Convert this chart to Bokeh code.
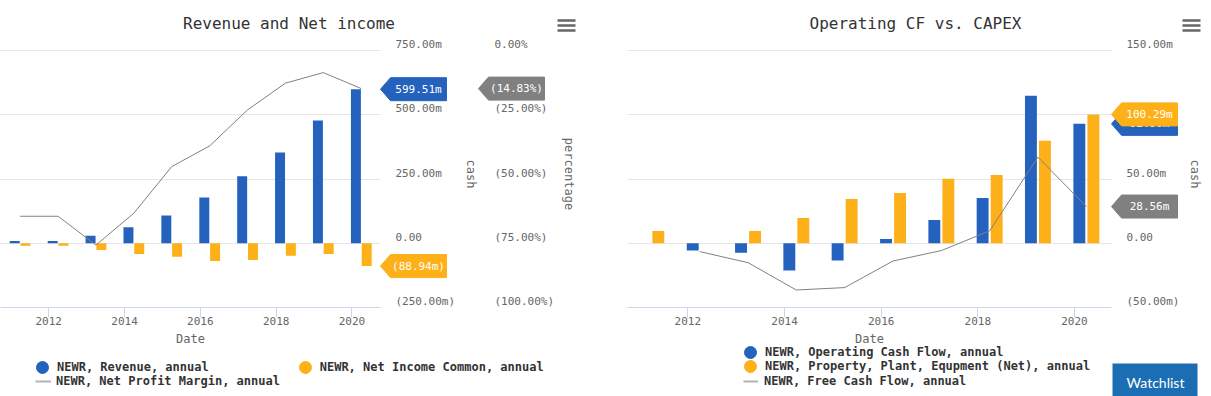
import pandas as pd
from bokeh.plotting import figure
from bokeh.models import (ColumnDataSource, Range1d, LinearAxis, FixedTicker,
                          DatetimeTickFormatter, Legend, LegendItem, Label,
                          PolyAnnotation, BoxAnnotation, GridBox)
from bokeh.transform import dodge
from bokeh.embed import file_html
from bokeh.resources import INLINE

NaN = float("nan")

# ---------------- data ----------------
DATES = ["2011-03-31", "2012-03-31", "2013-03-31", "2014-03-31", "2015-03-31",
         "2016-03-31", "2017-03-31", "2018-03-31", "2019-03-31", "2020-03-31"]
REVENUE = [9, 9, 29, 62, 108, 178, 261, 353, 478, 599.51]            # m
NET_INCOME = [-10, -10, -26, -42, -53, -69, -65, -49, -42, -88.94]    # m
NET_MARGIN = [-64.5, -64.5, -75.7, -63.3, -45.2, -37.1, -23.1, -12.7, -8.6, -14.83]  # %
OPER_CF = [NaN, -5.7, -7.3, -21.3, -13.5, 3.3, 18.1, 35.3, 114.7, 92.9]   # m
PPE_NET = [9.6, NaN, 9.6, 19.7, 34.5, 39.2, 50.1, 53.2, 79.7, 100.29]     # m
FREE_CF = [NaN, -6.5, -15.1, -36.4, -34.5, -13.8, -5.7, 9.6, 67.0, 28.56]  # m

TICK_YEARS = ["2012", "2014", "2016", "2018", "2020"]
L_CASH_TICKS = [-250, 0, 250, 500, 750]
L_CASH_LABELS = ["(250.00m)", "0.00", "250.00m", "500.00m", "750.00m"]
L_PCT_TICKS = [-100, -75, -50, -25, 0]
L_PCT_LABELS = ["(100.00%)", "(75.00%)", "(50.00%)", "(25.00%)", "0.00%"]
R_CASH_TICKS = [-50, 0, 50, 100, 150]
R_CASH_LABELS = ["(50.00m)", "0.00", "50.00m", "100.00m", "150.00m"]

TITLE_L = "Revenue and Net income"
TITLE_R = "Operating CF vs. CAPEX"
LEG_L = ["NEWR, Revenue, annual", "NEWR, Net Income Common, annual",
         "NEWR, Net Profit Margin, annual"]
LEG_R = ["NEWR, Operating Cash Flow, annual",
         "NEWR, Property, Plant, Equpment (Net), annual",
         "NEWR, Free Cash Flow, annual"]
BUTTON = "Watchlist"

# ---------------- style ----------------
MONO = "DejaVu Sans Mono"
BLUE = "#2462BD"
ORANGE = "#FDB017"
GREY = "#808080"
W_L, W_R, H = 605, 606, 396
PLOT_TOP, PLOT_BOTTOM = 50, 307
FRAME_H = PLOT_BOTTOM - PLOT_TOP
TOP_PAD = 10
LABEL_UP = 6
DAY = 86400000


def fmt_m(v):
    return f"{v:.2f}m" if v >= 0 else f"({-v:.2f}m)"


def fmt_p(v):
    return f"{v:.2f}%" if v >= 0 else f"({-v:.2f}%)"


def make_fig(width, x_start, x_end, y_lo, y_hi, min_left, min_right):
    per = (y_hi - y_lo) / FRAME_H
    p = figure(width=width, height=H, x_axis_type="datetime",
               x_range=Range1d(pd.Timestamp(x_start), pd.Timestamp(x_end)),
               y_range=Range1d(y_lo, y_hi + TOP_PAD * per),
               y_axis_location="right", output_backend="svg", toolbar_location=None,
               min_border_left=min_left, min_border_right=min_right,
               min_border_top=PLOT_TOP - TOP_PAD, min_border_bottom=H - PLOT_BOTTOM)
    p.frame_align = False
    p.outline_line_color = None
    p.background_fill_color = "white"
    p.border_fill_color = "white"
    p.xgrid.visible = False
    p.ygrid.grid_line_color = "#e6e6e6"
    xa = p.xaxis[0]
    xa.ticker = FixedTicker(ticks=[pd.Timestamp(f"{y}-01-01").value / 1e6 for y in TICK_YEARS])
    xa.formatter = DatetimeTickFormatter(years="%Y", months="%Y", days="%Y")
    xa.axis_line_color = "#ccd6eb"
    xa.major_tick_line_color = "#ccd6eb"
    xa.minor_tick_line_color = None
    xa.major_tick_out = 10
    xa.major_tick_in = 0
    xa.major_label_standoff = -1
    xa.major_label_text_font = MONO
    xa.major_label_text_font_size = "11px"
    xa.major_label_text_color = "#666666"
    xa.axis_label = "Date"
    xa.axis_label_standoff = 4
    xa.axis_label_text_font = MONO
    xa.axis_label_text_font_size = "12px"
    xa.axis_label_text_font_style = "normal"
    xa.axis_label_text_color = "#666666"
    return p, per


def overlay_range(lo, hi, per):
    # same data->pixel mapping as the chart frame, stretched over the whole canvas
    return Range1d(lo - (H - PLOT_BOTTOM) * per, hi + PLOT_TOP * per)


def make_overlay(width, y_range):
    o = figure(width=width, height=H, x_range=Range1d(0, width), y_range=y_range,
               x_axis_type=None, y_axis_type=None, output_backend="svg",
               toolbar_location=None, min_border=0,
               min_border_left=0, min_border_right=0, min_border_top=0, min_border_bottom=0)
    o.frame_align = False
    o.outline_line_color = None
    o.background_fill_alpha = 0
    o.border_fill_alpha = 0
    o.grid.visible = False
    return o


def style_y(ax, ticks, labels, per, standoff, title, title_standoff):
    shift = LABEL_UP * per
    pos = [t + shift for t in ticks]
    ax.ticker = FixedTicker(ticks=pos)
    ax.major_label_overrides = {k: v for k, v in zip(pos, labels)}
    ax.axis_line_color = None
    ax.major_tick_line_color = None
    ax.minor_tick_line_color = None
    ax.major_tick_out = 0
    ax.major_tick_in = 0
    ax.minor_tick_out = 0
    ax.major_label_standoff = standoff
    ax.major_label_text_font = MONO
    ax.major_label_text_font_size = "11px"
    ax.major_label_text_color = "#666666"
    ax.axis_label = title
    ax.axis_label_standoff = title_standoff
    ax.axis_label_text_font = MONO
    ax.axis_label_text_font_size = "12px"
    ax.axis_label_text_font_style = "normal"
    ax.axis_label_text_color = "#666666"


def callout(o, value, text, color, tip_x, per):
    h = 11.5 * per
    o.add_layout(PolyAnnotation(xs=[tip_x, tip_x + 10, tip_x + 66, tip_x + 66, tip_x + 10],
                                ys=[value, value + h, value + h, value - h, value - h],
                                xs_units="canvas", ys_units="data",
                                fill_color=color, fill_alpha=1.0, line_color=color,
                                line_alpha=1.0))
    o.add_layout(Label(x=tip_x + 38, y=value, x_units="canvas", y_units="data", text=text,
                       text_align="center", text_baseline="middle", text_color="white",
                       text_font=MONO, text_font_size="11px"))


def title(o, x, text):
    o.add_layout(Label(x=x, y=23, x_units="canvas", y_units="canvas", text=text,
                       text_align="center", text_baseline="middle", text_color="#333333",
                       text_font=MONO, text_font_size="16px"))


def hamburger(o, x0):
    for cy in (20, 25, 30):
        o.add_layout(BoxAnnotation(left=x0, right=x0 + 18, top=cy - 1.2, bottom=cy + 1.2,
                                   left_units="canvas", right_units="canvas",
                                   top_units="canvas", bottom_units="canvas",
                                   fill_color="#666666", fill_alpha=1.0, line_color=None))


def legend(items, loc, orientation="vertical", gw=30, gh=30, standoff=0, spacing=0):
    return Legend(items=items, location=loc, orientation=orientation,
                  glyph_width=gw, glyph_height=gh, label_height=14, label_standoff=standoff,
                  spacing=spacing, padding=0, margin=0, border_line_color=None,
                  background_fill_alpha=0.0, label_text_font=MONO,
                  label_text_font_size="12px", label_text_font_style="bold",
                  label_text_color="#333333")


def key_marker(o, color):
    return o.scatter(x=[NaN], y=[NaN], marker="circle", color=color)


def key_line(o):
    return o.line(x=[NaN, NaN], y=[NaN, NaN], color="#b3b3b3", line_width=2)


dates = pd.to_datetime(DATES).values

# ---------------- left chart ----------------
src_l = ColumnDataSource(dict(date=dates, revenue=REVENUE, ni=NET_INCOME, margin=NET_MARGIN))
p1, per_c = make_fig(W_L, "2010-09-23", "2020-10-02", -250, 750, 0, 225)
per_p = 100 / FRAME_H
p1.extra_y_ranges = {"pct": Range1d(-100, 0 + TOP_PAD * per_p)}
style_y(p1.yaxis[0], L_CASH_TICKS, L_CASH_LABELS, per_c, 15, "cash", 6)
p1.ygrid[0].ticker = FixedTicker(ticks=L_CASH_TICKS)
pct_axis = LinearAxis(y_range_name="pct")
style_y(pct_axis, L_PCT_TICKS, L_PCT_LABELS, per_p, 13, "percentage", 5)
p1.add_layout(pct_axis, "right")

p1.vbar(x=dodge("date", -52 * DAY), top="revenue", width=96 * DAY, source=src_l,
        color=BLUE, line_color=None)
p1.vbar(x=dodge("date", 52 * DAY), top="ni", width=96 * DAY, source=src_l,
        color=ORANGE, line_color=None)
p1.line("date", "margin", source=src_l, y_range_name="pct", color=GREY, line_width=1)

# overlay in cash units
o1 = make_overlay(W_L, overlay_range(-250, 750, per_c))
callout(o1, REVENUE[-1], fmt_m(REVENUE[-1]), BLUE, 380, per_c)
callout(o1, NET_INCOME[-1], fmt_m(NET_INCOME[-1]), ORANGE, 380, per_c)
o1.add_layout(legend([LegendItem(label=LEG_L[0], renderers=[key_marker(o1, BLUE)]),
                      LegendItem(label=LEG_L[1], renderers=[key_marker(o1, ORANGE)])],
                     (27, 14), orientation="horizontal", spacing=81))
o1.add_layout(legend([LegendItem(label=LEG_L[2], renderers=[key_line(o1)])],
                     (35, 8), gw=16, gh=14, standoff=5))
title(o1, 288.5, TITLE_L)
hamburger(o1, 557)

# overlay in percentage units
o1p = make_overlay(W_L, overlay_range(-100, 0, per_p))
callout(o1p, NET_MARGIN[-1], fmt_p(NET_MARGIN[-1]), GREY, 478, per_p)

# ---------------- right chart ----------------
src_r = ColumnDataSource(dict(date=dates, ocf=OPER_CF, ppe=PPE_NET, fcf=FREE_CF))
p2, per_r = make_fig(W_R, "2010-10-02", "2020-10-07", -50, 150, 22, 100)
style_y(p2.yaxis[0], R_CASH_TICKS, R_CASH_LABELS, per_r, 15, "cash", 6)
p2.ygrid[0].ticker = FixedTicker(ticks=R_CASH_TICKS)

p2.vbar(x=dodge("date", -53 * DAY), top="ocf", width=90 * DAY, source=src_r,
        color=BLUE, line_color=None)
p2.vbar(x=dodge("date", 53 * DAY), top="ppe", width=90 * DAY, source=src_r,
        color=ORANGE, line_color=None)
p2.line("date", "fcf", source=src_r, color=GREY, line_width=1)

o2 = make_overlay(W_R, overlay_range(-50, 150, per_r))
callout(o2, OPER_CF[-1], fmt_m(OPER_CF[-1]), BLUE, 506, per_r)
callout(o2, PPE_NET[-1], fmt_m(PPE_NET[-1]), ORANGE, 506, per_r)
callout(o2, FREE_CF[-1], fmt_m(FREE_CF[-1]), GREY, 506, per_r)

o2.add_layout(legend([LegendItem(label=LEG_R[0], renderers=[key_marker(o2, BLUE)])], (130, 29)))
o2.add_layout(legend([LegendItem(label=LEG_R[1], renderers=[key_marker(o2, ORANGE)])], (130, 15)))
o2.add_layout(legend([LegendItem(label=LEG_R[2], renderers=[key_line(o2)])],
                     (138, 8), gw=15, gh=14, standoff=6))
title(o2, 310, TITLE_R)
hamburger(o2, 577)

o2.add_layout(BoxAnnotation(left=507, right=592, top=363, bottom=396,
                            left_units="canvas", right_units="canvas",
                            top_units="canvas", bottom_units="canvas",
                            fill_color="#1B6EB4", fill_alpha=1.0, line_color=None))
o2.add_layout(Label(x=550, y=382, x_units="canvas", y_units="canvas", text=BUTTON,
                    text_align="center", text_baseline="middle", text_color="white",
                    text_font="Lato", text_font_size="14px"))

layout = GridBox(children=[(p1, 0, 0), (o1, 0, 0), (o1p, 0, 0),
                           (p2, 0, 1), (o2, 0, 1)], spacing=0)
open("out.html", "w").write(file_html(layout, INLINE))
